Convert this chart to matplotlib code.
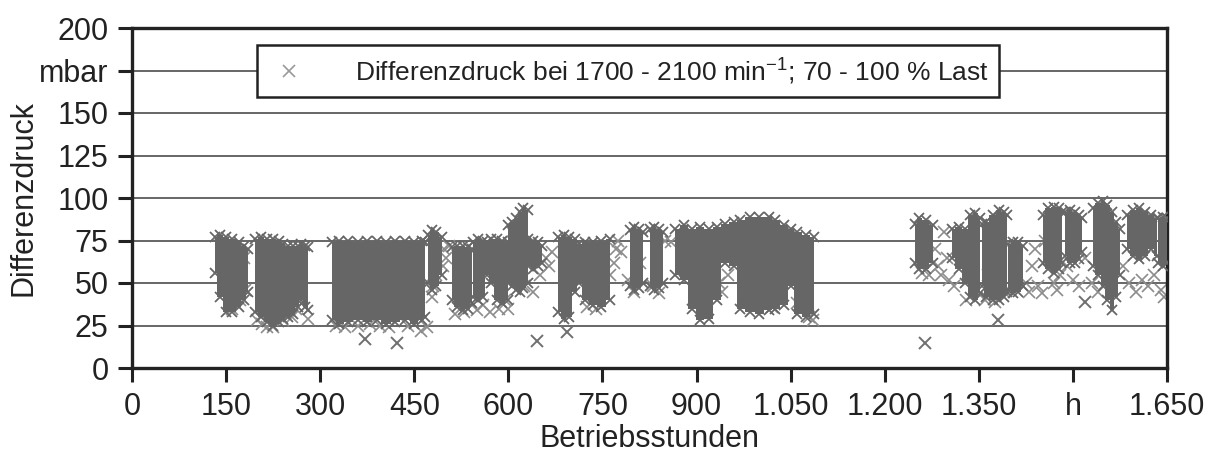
import numpy as np
import matplotlib
matplotlib.use("Agg")
import matplotlib.pyplot as plt
from matplotlib.lines import Line2D

plt.rcParams["font.family"] = ["Liberation Sans", "DejaVu Sans"]
plt.rcParams["mathtext.fontset"] = "custom"
plt.rcParams["mathtext.rm"] = "Liberation Sans"

nan = np.nan

# dense bands: hours, lower and upper edge of the point cloud (mbar), nan splits the bands
band_hours = [132, 140, 150, 160, 170, 178, 185, nan,
              196, 205, 215, 225, 235, 241, 248, 256, 264, 270, 275, 280, nan,
              319, 330, 345, 360, 375, 390, 405, 420, 435, 450, 462, 467, nan,
              472, 478, 485, 494, nan,
              510, 518, 527, 535, 542, nan,
              544, 552, 560, 566, 572, 582, 590, 599, nan,
              600, 606, 612, 618, 624, 631, nan,
              632, 640, 648, 654, nan,
              679, 688, 697, 706, 712, 722, 735, 748, 762, nan,
              794, 800, 808, 815, nan,
              826, 832, 840, 847, nan,
              866, 880, 893, 905, 920, 932, 945, 960, 970, 985, 1000, 1015, 1025, 1040, 1050, 1060, 1075, 1088, nan,
              1248, 1255, 1265, 1277, nan,
              1307, 1318, 1328, 1336, 1344, 1352, nan,
              1355, 1362, 1372, 1382, 1390, 1395, nan,
              1397, 1405, 1413, 1420, nan,
              1452, 1460, 1470, 1478, 1483, nan,
              1487, 1495, 1503, 1510, 1514, nan,
              1532, 1540, 1548, 1555, 1562, 1568, 1575, nan,
              1586, 1595, 1605, 1615, 1625, 1634, nan,
              1636, 1643, 1650]
band_low = [56, 42, 33, 33, 36, 40, 45, nan,
            33, 30, 27, 25, 27, 29, 30, 32, 36, 40, 36, 34, nan,
            28, 26, 27, 28, 27, 28, 26, 27, 28, 26, 28, 30, nan,
            50, 46, 48, 55, nan,
            40, 36, 34, 35, 38, nan,
            42, 40, 42, 55, 50, 40, 38, 40, nan,
            50, 48, 46, 45, 47, 50, nan,
            60, 58, 60, 62, nan,
            33, 29, 30, 45, 50, 40, 37, 36, 40, nan,
            48, 46, 47, 50, nan,
            48, 46, 47, 50, nan,
            55, 52, 35, 28, 29, 40, 62, 60, 35, 33, 32, 34, 35, 37, 48, 32, 30, 32, nan,
            62, 58, 58, 62, nan,
            65, 58, 50, 42, 40, 44, nan,
            48, 42, 40, 40, 42, 45, nan,
            46, 44, 45, 48, nan,
            62, 58, 56, 58, 62, nan,
            66, 62, 62, 64, 68, nan,
            60, 55, 48, 40, 34, 42, 55, nan,
            70, 66, 64, 66, 70, 66, nan,
            62, 60, 62]
band_high = [77, 78, 77, 76, 74, 72, 70, nan,
             76, 77, 76, 76, 75, 73, 72, 72, 72, 73, 72, 71, nan,
             74, 75, 75, 74, 75, 75, 74, 75, 75, 74, 75, 74, nan,
             78, 81, 80, 77, nan,
             71, 72, 72, 71, 70, nan,
             74, 76, 75, 74, 76, 76, 75, 74, nan,
             84, 86, 88, 92, 94, 93, nan,
             76, 75, 74, 72, nan,
             77, 78, 77, 76, 73, 74, 74, 75, 76, nan,
             81, 83, 82, 80, nan,
             82, 83, 82, 80, nan,
             82, 84, 82, 83, 82, 83, 85, 86, 87, 89, 89, 89, 87, 84, 82, 80, 78, 77, nan,
             85, 88, 87, 84, nan,
             82, 83, 82, 90, 91, 88, nan,
             85, 86, 90, 93, 92, 90, nan,
             73, 74, 74, 72, nan,
             90, 94, 95, 94, 92, nan,
             92, 93, 92, 90, 88, nan,
             94, 97, 98, 96, 92, 86, 82, nan,
             90, 93, 94, 92, 90, 88, nan,
             88, 89, 88]

# scattered single readings around the bands
sparse_hours = [160, 172, 180, 178, 200, 208, 215, 225, 240, 255, 262, 270, 280,
                325, 340, 360, 380, 395, 410, 440, 460, 470,
                478, 480, 485, 495, 498, 500, 505,
                515, 530, 550, 560, 570, 585, 595,
                605, 600, 625, 640, 650, 660, 665, 670,
                762, 768, 772, 740, 725,
                775, 780, 790, 800, 810, 830, 840, 850, 860,
                935, 940, 950, 1010, 1020, 1060, 1080, 1085,
                1280, 1285, 1290, 1295, 1300, 1302, 1260, 1270,
                1310, 1330, 1360, 1365, 1370, 1375, 1390,
                1425, 1430, 1435, 1440, 1445, 1450, 1455,
                1470, 1475, 1480, 1490, 1500, 1510, 1520,
                1530, 1540, 1580, 1590, 1600, 1610, 1620, 1630, 1640, 1645]
sparse_mbar = [35, 40, 46, 65, 28, 26, 24, 24, 28, 30, 35, 42, 29,
               25, 24, 25, 26, 25, 24, 25, 22, 24,
               42, 48, 55, 60, 70, 65, 72,
               32, 33, 34, 37, 33, 35, 40,
               80, 35, 48, 45, 55, 65, 60, 68,
               55, 62, 70, 35, 36,
               75, 68, 52, 45, 62, 48, 44, 75, 74,
               50, 45, 55, 40, 36, 38, 30, 28,
               70, 60, 55, 80, 65, 52, 56, 55,
               48, 40, 40, 55, 65, 39, 45,
               50, 45, 60, 70, 48, 44, 75,
               50, 46, 55, 60, 52, 48, 65,
               50, 45, 60, 50, 45, 52, 48, 55, 46, 42]

outlier_hours = [372, 422, 645, 693, 1264, 1381, 1519]
outlier_mbar = [17, 15, 16, 21, 15, 28, 39]

x_ticks = [0, 150, 300, 450, 600, 750, 900, 1050, 1200, 1350, 1500, 1650]
x_labels = ["0", "150", "300", "450", "600", "750", "900", "1.050", "1.200", "1.350", "h", "1.650"]
y_ticks = [0, 25, 50, 75, 100, 125, 150, 175, 200]
y_labels = ["0", "25", "50", "75", "100", "125", "150", "mbar", "200"]

dark = "#666666"
light = "#8c8c8c"
ink = "#222222"

fig = plt.figure(figsize=(12.15, 4.55), dpi=100)
ax = fig.add_axes([132 / 1215, 87 / 455, 1035 / 1215, 340 / 455])

# blocky fill so the clouds read as columns of points
ax.fill_between(band_hours, band_low, band_high, step="mid", color=dark, lw=0, zorder=3)
ax.plot(band_hours, band_low, "x", color=dark, ms=7, mew=1.3, zorder=3)
ax.plot(band_hours, band_high, "x", color=dark, ms=7, mew=1.3, zorder=3)
ax.plot(sparse_hours, sparse_mbar, "x", color=light, ms=8, mew=1.2, zorder=2.5)
ax.plot(outlier_hours, outlier_mbar, "x", color="#707070", ms=8, mew=1.4, zorder=3)

ax.set_xlim(0, 1650)
ax.set_ylim(0, 200)
ax.set_xticks(x_ticks)
ax.set_xticklabels(x_labels)
ax.set_yticks(y_ticks)
ax.set_yticklabels(y_labels)
ax.tick_params(direction="out", length=10, width=2.2, color=ink, labelsize=22,
               labelcolor=ink, pad=7)

ax.set_axisbelow(True)
ax.yaxis.grid(True, color="#5a5a5a", lw=1.3)
for s in ax.spines.values():
    s.set_linewidth(2.4)
    s.set_color(ink)

ax.set_xlabel("Betriebsstunden", fontsize=22, color=ink)
ax.xaxis.set_label_coords(0.5, -0.165)
ax.xaxis.label.set_va("top")
ax.set_ylabel("Differenzdruck", fontsize=22, color=ink)
ax.yaxis.set_label_coords(-0.09, 0.5)

handle = Line2D([], [], ls="none", marker="x", color="#999999", ms=8, mew=1.2)
leg = ax.legend([handle], ["Differenzdruck bei 1700 - 2100 min$^{-1}$; 70 - 100 % Last"],
                loc="upper left", bbox_to_anchor=(0.121, 0.95), borderaxespad=0,
                fancybox=False, framealpha=1, edgecolor=ink, fontsize=19,
                borderpad=0.4, handlelength=1.6, handletextpad=1.7, labelcolor=ink)
leg.get_frame().set_linewidth(1.8)
leg.set_zorder(5)

fig.savefig("out.png", dpi=100, facecolor="white")
